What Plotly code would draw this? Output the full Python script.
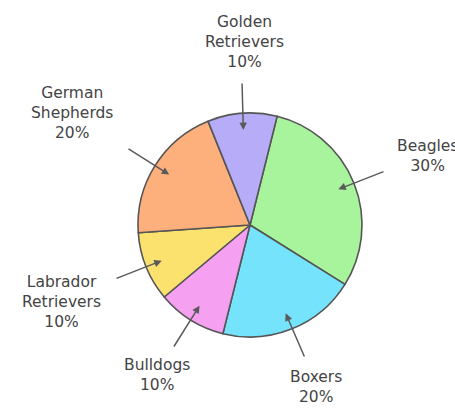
import math
import plotly.graph_objects as go

labels = ["Beagles", "Boxers", "Bulldogs", "Labrador Retrievers", "German Shepherds", "Golden Retrievers"]
values = [30, 20, 10, 10, 20, 10]
label_text = ["Beagles<br>30%", "Boxers<br>20%", "Bulldogs<br>10%",
              "Labrador<br>Retrievers<br>10%", "German<br>Shepherds<br>20%", "Golden<br>Retrievers<br>10%"]
colors = ["#a8f49c", "#74e3fb", "#f6a0f1", "#fbe26f", "#fdaf7c", "#b6acf8"]

W, H = 455, 408
CX, CY, R = 250, 225, 112
ROT = 14

# layout config: label block centres and arrow tail points (pixels)
text_pos = [(427, 156), (316, 387), (157, 375), (62, 302), (72, 113), (244, 42)]
tail_pos = [(385, 171), (305, 358), (173, 348), (115, 279), (127, 148), (242, 82)]

fig = go.Figure(go.Pie(
    labels=labels, values=values, sort=False, direction="clockwise", rotation=ROT,
    marker=dict(colors=colors, line=dict(color="#555555", width=1.6)),
    textinfo="none", hoverinfo="label+percent", showlegend=False,
    domain=dict(x=[(CX - R) / W, (CX + R) / W], y=[1 - (CY + R) / H, 1 - (CY - R) / H]),
))

total = sum(values)
cum = 0
ann = []
for i, v in enumerate(values):
    mid = ROT + (cum + v / 2) / total * 360
    cum += v
    a = math.radians(mid)
    hx = CX + 0.85 * R * math.sin(a)
    hy = CY - 0.85 * R * math.cos(a)
    tx, ty = tail_pos[i]
    ann.append(dict(x=hx / W, y=1 - hy / H, xref="paper", yref="paper",
                    ax=tx - hx, ay=ty - hy, showarrow=True, arrowhead=2,
                    arrowsize=1, arrowwidth=1.5, arrowcolor="#5a5a5a", text=""))
    px, py = text_pos[i]
    ann.append(dict(x=px / W, y=1 - py / H, xref="paper", yref="paper",
                    text=label_text[i], showarrow=False, xanchor="center", yanchor="middle",
                    font=dict(family="DejaVu Sans", size=15.5, color="#444444")))

fig.update_layout(width=W, height=H, margin=dict(l=0, r=0, t=0, b=0),
                  paper_bgcolor="white", plot_bgcolor="white", annotations=ann)
fig.write_html("out.html", config={"displayModeBar": False},
               post_script="document.body.style.margin='0';")
